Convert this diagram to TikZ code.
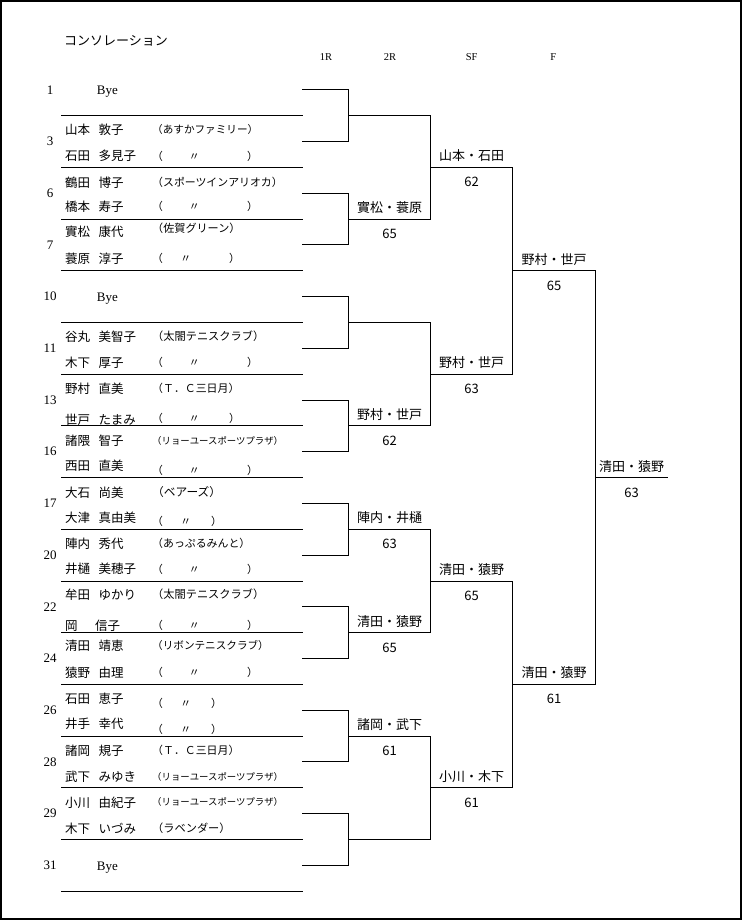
\documentclass[tikz,border=0pt]{standalone}
\usepackage{fontspec}
\setmainfont{Liberation Serif}
\newfontfamily\jp{Noto Sans CJK JP}
\newcommand\gp{\hspace*{8.5pt}}
\newcommand\dit[2]{\rlap{（}\hspace*{#1}\rlap{〃}\hspace*{#2}\rlap{）}\hspace*{10pt}}
\newcommand\res[5]{%
  \node[win] (#1w) at (#2,#3-11.5) {#4};
  \node[sc] (#1s) at (#2,#3+14.8) {#5};}
\tikzset{
  nm/.style={anchor=west, inner sep=0pt, font={\jp\fontsize{12.5}{13}\selectfont}},
  af/.style={anchor=west, inner sep=0pt, font={\jp\fontsize{#1}{#1}\selectfont}},
  af/.default=10.8,
  num/.style={inner sep=0pt, font={\fontsize{13}{13}\selectfont}},
  byetxt/.style={anchor=base west, inner sep=0pt, font={\fontsize{13}{13}\selectfont}},
  hdr/.style={inner sep=0pt, font={\fontsize{10.5}{10.5}\selectfont}},
  win/.style={inner sep=0pt, font={\jp\fontsize{13}{13}\selectfont}},
  sc/.style={inner sep=0pt, font={\jp\fontsize{13}{13}\selectfont}},
  br/.style={line width=1pt},
  sepl/.style={line width=1pt},
}
\begin{document}
\begin{tikzpicture}[x=1pt,y=-1pt]
\useasboundingbox (0,0) rectangle (743,922);
\draw[line width=2pt] (1,1) rectangle (741,919);

% title and headers
\node[af=13] (title) at (64,40.7) {コンソレーション};
\node[hdr] (h1) at (326,57.3) {1R};
\node[hdr] (h2) at (390,57.3) {2R};
\node[hdr] (h3) at (471.7,57.3) {SF};
\node[hdr] (h4) at (553.3,57.3) {F};

% separator lines
\foreach \k in {0,...,15} {
  \draw[sepl] (61,{115.7+51.7*\k}) -- (303,{115.7+51.7*\k});
}

% draw numbers
\foreach \k/\n in {0/1,1/3,2/6,3/7,4/10,5/11,6/13,7/16,8/17,9/20,10/22,11/24,12/26,13/28,14/29,15/31} {
  \node[num] (num\k) at (50,{89.85+51.7*\k}) {\n};
}
\node[byetxt] (bye0) at (96.7,94.5) {Bye};
\node[byetxt] (bye4) at (96.7,301.3) {Bye};
\node[byetxt] (bye15) at (96.7,870) {Bye};

% players
\node[nm] (n1a) at (65,129.3) {山本\gp 敦子};
\node[af=10.6] (f1a) at (152,129.3) {（あすかファミリー）};
\node[nm] (n1b) at (65,156) {石田\gp 多見子};
\node[af] (f1b) at (152,156) {\dit{36.6pt}{58.4pt}};

\node[nm] (n2a) at (65,182.3) {鶴田\gp 博子};
\node[af=10.9] (f2a) at (152,182.3) {（スポーツインアリオカ）};
\node[nm] (n2b) at (65,206.7) {橋本\gp 寿子};
\node[af] (f2b) at (152,206.7) {\dit{36.6pt}{58.4pt}};

\node[nm] (n3a) at (65,231.7) {實松\gp 康代};
\node[af=11.1] (f3a) at (152,228.3) {（佐賀グリーン）};
\node[nm] (n3b) at (65,258.3) {蓑原\gp 淳子};
\node[af] (f3b) at (152,258.3) {\dit{28.3pt}{48.7pt}};

\node[nm] (n5a) at (65,336.7) {谷丸\gp 美智子};
\node[af=11.2] (f5a) at (152,336.7) {（太閤テニスクラブ）};
\node[nm] (n5b) at (65,362.7) {木下\gp 厚子};
\node[af] (f5b) at (152,362.7) {\dit{36.6pt}{58.4pt}};

\node[nm] (n6a) at (65,388.3) {野村\gp 直美};
\node[af=10.9] (f6a) at (152,388.3) {（Ｔ．Ｃ三日月）};
\node[nm] (n6b) at (65,420) {世戸\gp たまみ};
\node[af] (f6b) at (152,418.3) {\dit{36.6pt}{40.4pt}};

\node[nm] (n7a) at (65,441) {諸隈\gp 智子};
\node[af=9.4] (f7a) at (152,440.7) {（リョーユースポーツプラザ）};
\node[nm] (n7b) at (65,466) {西田\gp 直美};
\node[af] (f7b) at (152,470) {\dit{36.6pt}{58.4pt}};

\node[nm] (n8a) at (65,492.3) {大石\gp 尚美};
\node[af=11.7] (f8a) at (152,492.3) {（ベアーズ）};
\node[nm] (n8b) at (65,517.7) {大津\gp 真由美};
\node[af] (f8b) at (152,521.7) {\dit{28.3pt}{30.7pt}};

\node[nm] (n9a) at (65,543.3) {陣内\gp 秀代};
\node[af=10.9] (f9a) at (152,543.3) {（あっぷるみんと）};
\node[nm] (n9b) at (65,569) {井樋\gp 美穂子};
\node[af] (f9b) at (152,569) {\dit{36.6pt}{58.4pt}};

\node[nm] (n10a) at (65,594.3) {牟田\gp ゆかり};
\node[af=11.2] (f10a) at (152,594.3) {（太閤テニスクラブ）};
\node[nm] (n10b) at (65,625.7) {岡\hspace*{17.5pt}信子};
\node[af] (f10b) at (152,625.7) {\dit{36.6pt}{58.4pt}};

\node[nm] (n11a) at (65,645.7) {清田\gp 靖恵};
\node[af=10.6] (f11a) at (152,645.7) {（リボンテニスクラブ）};
\node[nm] (n11b) at (65,672.3) {猿野\gp 由理};
\node[af] (f11b) at (152,672.3) {\dit{36.6pt}{58.4pt}};

\node[nm] (n12a) at (65,698.3) {石田\gp 恵子};
\node[af] (f12a) at (152,703.3) {\dit{28.3pt}{30.7pt}};
\node[nm] (n12b) at (65,724.3) {井手\gp 幸代};
\node[af] (f12b) at (152,729) {\dit{28.3pt}{30.7pt}};

\node[nm] (n13a) at (65,750.7) {諸岡\gp 規子};
\node[af=10.9] (f13a) at (152,750.7) {（Ｔ．Ｃ三日月）};
\node[nm] (n13b) at (65,776.7) {武下\gp みゆき};
\node[af=9.4] (f13b) at (152,776.7) {（リョーユースポーツプラザ）};

\node[nm] (n14a) at (65,802.3) {小川\gp 由紀子};
\node[af=9.4] (f14a) at (152,802.3) {（リョーユースポーツプラザ）};
\node[nm] (n14b) at (65,828.3) {木下\gp いづみ};
\node[af=11.2] (f14b) at (152,828.3) {（ラベンダー）};

% bracket coordinates
\foreach \k in {0,...,15} { \coordinate (s\k) at (302,{89.85+51.7*\k}); }
\foreach \j in {0,...,7} { \coordinate (a\j) at (348.7,{115.7+103.4*\j}); }
\foreach \j in {0,...,3} { \coordinate (b\j) at (430.3,{167.4+206.8*\j}); }
\coordinate (c0) at (512.7,270.8);
\coordinate (c1) at (512.7,684.4);
\coordinate (d0) at (595.3,477.6);
\coordinate (e0) at (667.7,477.6);

% bracket lines
\foreach \j [evaluate=\j as \p using {int(2*\j)}, evaluate=\j as \q using {int(2*\j+1)}] in {0,...,7} {
  \draw[br] (s\p) -| (a\j) |- (s\q);
}
\foreach \j [evaluate=\j as \p using {int(2*\j)}, evaluate=\j as \q using {int(2*\j+1)}] in {0,...,3} {
  \draw[br] (a\p) -| (b\j) |- (a\q);
}
\draw[br] (b0) -| (c0) |- (b1);
\draw[br] (b2) -| (c1) |- (b3);
\draw[br] (c0) -| (d0) |- (c1);
\draw[br] (d0) -- (e0);

% results
\res{ra1}{389.5}{219.1}{實松・蓑原}{65}
\res{ra3}{389.5}{425.9}{野村・世戸}{62}
\res{ra4}{389.5}{529.3}{陣内・井樋}{63}
\res{ra5}{389.5}{632.7}{清田・猿野}{65}
\res{ra6}{389.5}{736.1}{諸岡・武下}{61}
\res{rb0}{471.5}{167.4}{山本・石田}{62}
\res{rb1}{471.5}{374.2}{野村・世戸}{63}
\res{rb2}{471.5}{581}{清田・猿野}{65}
\res{rb3}{471.5}{787.8}{小川・木下}{61}
\res{rc0}{554}{270.8}{野村・世戸}{65}
\res{rc1}{554}{684.4}{清田・猿野}{61}
\res{rd0}{631.5}{477.6}{清田・猿野}{63}
\end{tikzpicture}
\end{document}
